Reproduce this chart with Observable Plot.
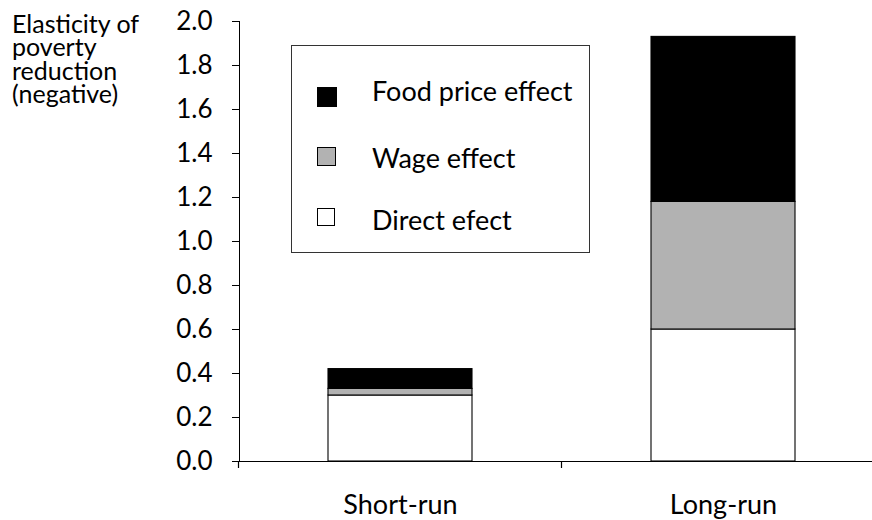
<!DOCTYPE html>
<html>
<head>
<meta charset="utf-8">
<script src="https://cdn.jsdelivr.net/npm/d3@7"></script>
<script src="https://cdn.jsdelivr.net/npm/@observablehq/plot@0.6"></script>
<style>
  html, body { margin: 0; padding: 0; background: #fff; }
  #wrap { position: relative; width: 872px; height: 520px; font-family: Lato, sans-serif; }
  #wrap svg g[aria-label="x-axis tick label"], #wrap svg g[aria-label="x-axis"] { font-size: 27px; }
  #ylabel { position: absolute; left: 12px; top: 12px; font-size: 25px; color: #000; }
  #ylabel div { height: 23.3px; line-height: 23.3px; white-space: nowrap; overflow: visible; }
  #legend { position: absolute; left: 291px; top: 45px; width: 299px; height: 208px; box-sizing: border-box; border: 1px solid #333; background: #fff; }
  #legend .sw { position: absolute; box-sizing: border-box; border: 1.5px solid #000; }
  #legend .lb { position: absolute; font-size: 27px; line-height: 1; color: #000; white-space: nowrap; }
</style>
</head>
<body>
<div id="wrap"></div>
<script>
// ---- data ----
const categories = ["Short-run", "Long-run"];
const series = ["Direct efect", "Wage effect", "Food price effect"]; // stacking order, bottom to top
const directEffect = [0.30, 0.60];
const wageEffect = [0.03, 0.58];
const foodPriceEffect = [0.09, 0.75];
const seriesColors = ["#ffffff", "#b2b2b2", "#000000"];
const yTicks = [0.0, 0.2, 0.4, 0.6, 0.8, 1.0, 1.2, 1.4, 1.6, 1.8, 2.0];
const yLabelLines = ["Elasticity of", "poverty", "reduction", "(negative)"];
const legendOrder = ["Food price effect", "Wage effect", "Direct efect"];

const values = [directEffect, wageEffect, foodPriceEffect];
const rows = [];
series.forEach((s, si) => categories.forEach((c, ci) => rows.push({category: c, series: s, value: values[si][ci]})));

function boundaryTicks(index, scales) {
  const x = scales.x, y = scales.y;
  const bw = typeof x.bandwidth === "function" ? x.bandwidth() : x.bandwidth;
  const step = x(categories[1]) - x(categories[0]);
  const y0 = y(0);
  const g = d3.create("svg:g").attr("stroke", "#000").attr("stroke-width", 1.2);
  const bounds = categories.map(c => x(c) - (step - bw) / 2);
  bounds.push(bounds[bounds.length - 1] + step);
  for (const b of bounds) {
    g.append("line").attr("x1", b).attr("x2", b).attr("y1", y0).attr("y2", y0 + 7);
  }
  return g.node();
}

const chart = Plot.plot({
  width: 872,
  height: 520,
  marginTop: 21,
  marginBottom: 59,
  marginLeft: 239,
  marginRight: 0,
  style: {fontFamily: "Lato, sans-serif", fontSize: "26px", color: "#000", background: "#fff", overflow: "visible"},
  x: {domain: categories, range: [239, 885], paddingInner: 0.554, paddingOuter: 0.277, tickSize: 0, tickPadding: 33, label: null},
  y: {domain: [0, 2], ticks: yTicks, tickFormat: d3.format(".1f"), tickSize: 7, tickPadding: 20, label: null, line: true},
  color: {domain: series, range: seriesColors},
  marks: [
    Plot.barY(rows, {x: "category", y: "value", fill: "series", stroke: "#000", strokeWidth: 1.1}),
    Plot.ruleY([0], {stroke: "#000", strokeWidth: 1.2}),
    boundaryTicks
  ]
});

const wrap = document.getElementById("wrap");
wrap.appendChild(chart);

// y-axis title (top-left)
const yl = d3.select(wrap).append("div").attr("id", "ylabel");
yLabelLines.forEach(t => yl.append("div").text(t));

// legend overlay
const legend = d3.select(wrap).append("div").attr("id", "legend");
const swatchPos = [[25, 41, 20], [25, 101, 19], [25, 162, 18]];
const labelTop = [31, 98, 160];
legendOrder.forEach((name, i) => {
  const col = seriesColors[series.indexOf(name)];
  const [l, t, s] = swatchPos[i];
  legend.append("div").attr("class", "sw")
    .style("left", l + "px").style("top", t + "px").style("width", s + "px").style("height", s + "px")
    .style("background", col);
  legend.append("div").attr("class", "lb").style("left", "80px").style("top", labelTop[i] + "px").text(name);
});
</script>
</body>
</html>
